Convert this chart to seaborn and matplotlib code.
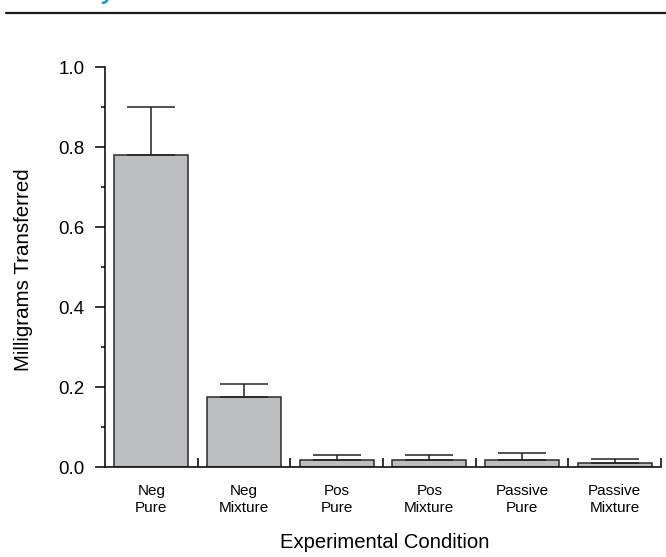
import numpy as np
import pandas as pd
import seaborn as sns
import matplotlib.pyplot as plt
from matplotlib.ticker import MultipleLocator, FixedLocator

# dane
warunki = ['Neg\nPure', 'Neg\nMixture', 'Pos\nPure', 'Pos\nMixture', 'Passive\nPure', 'Passive\nMixture']
srednie = [0.78, 0.176, 0.018, 0.018, 0.018, 0.009]
gorny_blad = [0.12, 0.031, 0.012, 0.012, 0.018, 0.012]

sns.set_style('ticks')
plt.rcParams['font.family'] = ['Liberation Sans', 'DejaVu Sans']
plt.rcParams['axes.linewidth'] = 1.2
plt.rcParams['text.color'] = 'black'
plt.rcParams['xtick.color'] = 'black'
plt.rcParams['ytick.color'] = 'black'

dane = pd.DataFrame({'Warunek': warunki, 'mg': srednie})

f = plt.figure(figsize=(6.66, 5.57), dpi=100)
ax1 = f.add_axes([105/666, 90/557, 556/666, 400/557])

sns.barplot(data=dane, x='Warunek', y='mg', color='#bdbebf', saturation=1,
            width=0.8, edgecolor='#2a2a2a', linewidth=1.1, ax=ax1)

x = np.arange(len(warunki))
ax1.errorbar(x, srednie, yerr=[np.zeros(len(x)), gorny_blad], fmt='none',
             ecolor='#222222', elinewidth=1.1, capsize=17.6, capthick=1.1)

ax1.set(xlim=(-0.5, 5.5), ylim=(0, 1.0))
ax1.set(xlabel=None)
ax1.set(ylabel=None)
sns.despine(ax=ax1)
ax1.spines['bottom'].set_color('#111111')
ax1.spines['left'].set_color('#111111')

ax1.yaxis.set_minor_locator(MultipleLocator(0.1))
ax1.set_yticks([0, 0.2, 0.4, 0.6, 0.8, 1.0])
ax1.set_yticklabels(['0.0', '0.2', '0.4', '0.6', '0.8', '1.0'])
ax1.tick_params(axis='y', which='major', length=7.5, width=1.2, direction='out',
                labelsize=13.5, pad=7, color='#111111')
ax1.tick_params(axis='y', which='minor', length=3, width=1.2, direction='out', color='#111111')

ax1.xaxis.set_minor_locator(FixedLocator(np.arange(0.5, 6, 1.0)))
ax1.tick_params(axis='x', which='major', length=0, labelsize=11, pad=12)
ax1.tick_params(axis='x', which='minor', length=6.5, width=1.2, direction='in', color='#111111')
for lab in ax1.get_xticklabels():
    lab.set_linespacing(1.3)

f.text(385/666, 1 - 543/557, 'Experimental Condition', ha='center', va='center', fontsize=14.6)
f.text(24/666, 1 - 270/557, 'Milligrams Transferred', ha='center', va='center',
       rotation='vertical', fontsize=14.8)

# naglowek uciety u gory kadru
f.text(8/666, 1 + 0.5/557, 'Summary of Transfer Rates', ha='left', va='baseline',
       fontsize=17, fontweight='bold', fontstyle='italic', color='#1a9cc4')
f.add_artist(plt.Line2D([6/666, 1.0], [1 - 13/557, 1 - 13/557], color='#1a1a1a', lw=1.6))

f.savefig('out.png', dpi=100)
